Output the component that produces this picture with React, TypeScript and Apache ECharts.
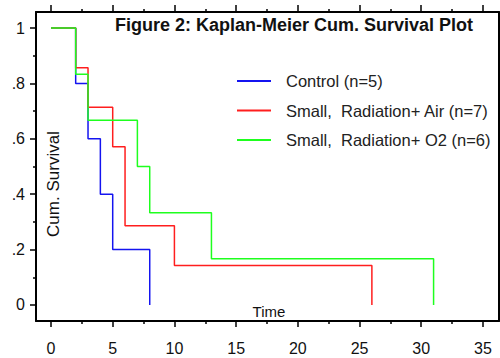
import React, { useEffect, useRef } from "react";
import * as echarts from "echarts";

const SERIES_NAMES = ["Control (n=5)", "Small,  Radiation+ Air (n=7)", "Small,  Radiation+ O2 (n=6)"];
const CONTROL_T = [0, 2, 3, 4, 5, 8];
const CONTROL_S = [1, 0.8, 0.6, 0.4, 0.2, 0];
const AIR_T = [0, 2, 3, 5, 6, 10, 26];
const AIR_S = [1, 0.857, 0.714, 0.571, 0.286, 0.143, 0];
const O2_T = [0, 2, 3, 7, 8, 13, 31];
const O2_S = [1, 0.833, 0.667, 0.5, 0.333, 0.167, 0];
const COLORS = ["#1414f0", "#ff1e1e", "#1eff1e"];

const X_MAJOR = [0, 5, 10, 15, 20, 25, 30, 35];
const X_MINOR = [2.5, 7.5, 12.5, 17.5, 22.5, 27.5, 32.5];
const Y_MAJOR = [0, 0.2, 0.4, 0.6, 0.8, 1];
const Y_MAJOR_LABELS = ["0", ".2", ".4", ".6", ".8", "1"];
const Y_MINOR = [0.1, 0.3, 0.5, 0.7, 0.9];

const X_MIN = -1.215;
const X_MAX = 36.3;
const Y_MIN = -0.0578;
const Y_MAX = 1.058;

const FONT = "'Liberation Sans', Arial, sans-serif";

export default function App() {
  const ref = useRef<HTMLDivElement>(null);
  useEffect(() => {
    document.body.style.margin = "0";
    const chart = echarts.init(ref.current!, null, { renderer: "svg" });
    const pairs = (t: number[], s: number[]) => t.map((v, i) => [v, s[i]]);
    const axisLineStyle = { show: true, onZero: false, lineStyle: { color: "#000", width: 2 } };
    const noLine = { show: false, onZero: false };
    const baseX = {
      type: "value" as const,
      min: X_MIN,
      max: X_MAX,
      splitLine: { show: false },
    };
    const baseY = {
      type: "value" as const,
      min: Y_MIN,
      max: Y_MAX,
      splitLine: { show: false },
    };
    const tickStyle = { color: "#000", width: 1.5 };
    chart.setOption({
      animation: false,
      backgroundColor: "#fff",
      grid: { left: 36, right: 1, top: 12, bottom: 37, containLabel: false, outerBoundsMode: "none" },
      xAxis: [
        {
          ...baseX,
          position: "bottom",
          axisLine: axisLineStyle,
          axisTick: { customValues: X_MAJOR, length: 6, lineStyle: tickStyle },
          axisLabel: { customValues: X_MAJOR, fontSize: 16, margin: 19, color: "#111", fontFamily: FONT },
        },
        {
          ...baseX,
          position: "bottom",
          axisLine: noLine,
          axisTick: { customValues: X_MINOR, length: 3, lineStyle: tickStyle },
          axisLabel: { show: false },
        },
        {
          ...baseX,
          position: "top",
          axisLine: axisLineStyle,
          axisTick: { customValues: X_MAJOR, length: 7, lineStyle: tickStyle },
          axisLabel: { show: false },
        },
        {
          ...baseX,
          position: "top",
          axisLine: noLine,
          axisTick: { customValues: X_MINOR, length: 3, lineStyle: tickStyle },
          axisLabel: { show: false },
        },
      ],
      yAxis: [
        {
          ...baseY,
          position: "left",
          axisLine: axisLineStyle,
          axisTick: { customValues: Y_MAJOR, length: 6, lineStyle: tickStyle },
          axisLabel: {
            customValues: Y_MAJOR,
            fontSize: 16,
            margin: 11,
            color: "#111",
            fontFamily: FONT,
            formatter: (v: number) => {
              const i = Y_MAJOR.findIndex((m) => Math.abs(m - v) < 1e-9);
              return i >= 0 ? Y_MAJOR_LABELS[i] : "";
            },
          },
        },
        {
          ...baseY,
          position: "left",
          axisLine: noLine,
          axisTick: { customValues: Y_MINOR, length: 3, lineStyle: tickStyle },
          axisLabel: { show: false },
        },
        {
          ...baseY,
          position: "right",
          axisLine: axisLineStyle,
          axisTick: { show: false },
          axisLabel: { show: false },
        },
      ],
      legend: {
        orient: "vertical",
        left: 237,
        top: 72.5,
        padding: 0,
        icon: "rect",
        itemWidth: 34,
        itemHeight: 1.8,
        itemGap: 12.5,
        data: SERIES_NAMES,
        textStyle: { fontSize: 16.5, color: "#222", fontFamily: FONT, padding: [0, 0, 0, 10] },
      },
      graphic: [
        {
          type: "text",
          x: 294,
          y: 25,
          style: {
            text: "Figure 2: Kaplan-Meier Cum. Survival Plot",
            font: `bold 18px ${FONT}`,
            fill: "#111",
            textAlign: "center",
            textVerticalAlign: "middle",
          },
        },
        {
          type: "text",
          x: 53,
          y: 184,
          rotation: Math.PI / 2,
          style: {
            text: "Cum. Survival",
            font: `17px ${FONT}`,
            fill: "#111",
            textAlign: "center",
            textVerticalAlign: "middle",
          },
        },
        {
          type: "text",
          x: 269,
          y: 311,
          style: {
            text: "Time",
            font: `15px ${FONT}`,
            fill: "#111",
            textAlign: "center",
            textVerticalAlign: "middle",
          },
        },
      ],
      series: [
        { t: CONTROL_T, s: CONTROL_S },
        { t: AIR_T, s: AIR_S },
        { t: O2_T, s: O2_S },
      ].map((d, i) => ({
        name: SERIES_NAMES[i],
        type: "line",
        step: "end",
        symbol: "none",
        xAxisIndex: 0,
        yAxisIndex: 0,
        data: pairs(d.t, d.s),
        lineStyle: { color: COLORS[i], width: 1.5 },
        itemStyle: { color: COLORS[i] },
      })),
    });
    return () => chart.dispose();
  }, []);
  return <div ref={ref} style={{ width: 500, height: 358 }} />;
}
